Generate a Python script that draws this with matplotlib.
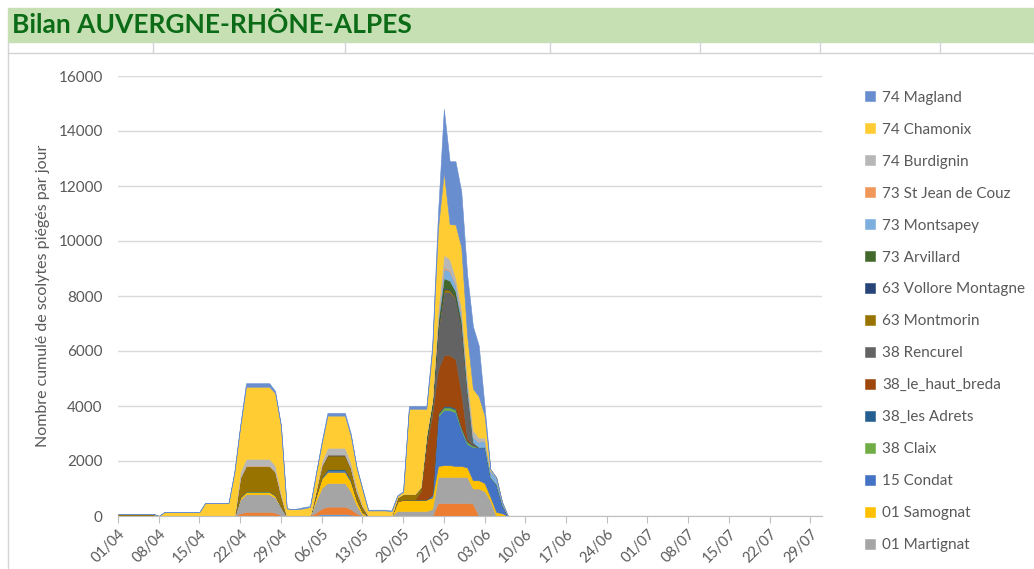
import numpy as np
import pandas as pd
import matplotlib
matplotlib.use("Agg")
import matplotlib.pyplot as plt
from matplotlib.patches import Rectangle
from matplotlib.lines import Line2D

plt.rcParams['font.family'] = ['Lato', 'DejaVu Sans']

# Daily values, 01/04 -> 06/06 (days after that are all zero)
dates = pd.date_range('2021-04-01', '2021-07-31', freq='D')

# two series at the bottom of the stack that are not shown in the legend
autre_bleu = [0] * 20 + [
    0, 20, 30, 30, 30, 30, 30, 20, 0, 0,
    0, 0, 0, 0, 30, 70, 70, 70, 70, 70,
    50, 20] + [0] * 26
autre_orange = [0] * 20 + [
    0, 80, 120, 120, 120, 120, 120, 100, 30, 0,
    0, 0, 0, 0, 100, 200, 270, 270, 270, 270,
    200, 80, 0, 0, 0, 0, 0, 0, 0, 0,
    0, 0, 0, 0, 0, 470, 470, 470, 470, 470,
    470, 450, 0, 0, 0, 0, 0, 0]
martignat = [0] * 20 + [
    0, 500, 640, 640, 640, 640, 640, 550, 300, 0,
    0, 0, 0, 0, 400, 750, 860, 860, 860, 860,
    650, 300, 50, 0, 0, 0, 0, 0, 180, 180,
    180, 180, 180, 180, 250, 950, 950, 950, 950, 950,
    950, 550, 1000, 900, 550, 0, 0, 0]
samognat = [0] * 20 + [
    0, 80, 90, 90, 90, 90, 90, 80, 20, 0,
    0, 0, 0, 0, 200, 350, 400, 400, 400, 400,
    350, 200, 100, 0, 0, 0, 0, 0, 350, 420,
    420, 420, 420, 420, 420, 400, 430, 430, 400, 400,
    350, 300, 300, 300, 150, 150, 100, 0]
condat = [0] * 30 + [
    0, 0, 0, 0, 0, 30, 60, 60, 60, 60,
    40, 0, 0, 0, 0, 0, 0, 0, 0, 0,
    0, 0, 0, 0, 100, 1800, 2000, 2000, 1950, 1300,
    850, 1200, 1200, 1300, 700, 1000, 300, 0]
claix = [0] * 20 + [
    0, 20, 20, 20, 20, 20, 20, 20, 0, 0] + [0] * 20 + [
    0, 0, 0, 0, 0, 80, 100, 100, 100, 80,
    80, 50, 0, 0, 0, 0, 0, 0]
les_adrets = [0] * 30 + [
    0, 0, 0, 0, 0, 20, 40, 40, 40, 40,
    30, 0, 0, 0, 0, 0, 0, 0, 0, 0,
    0, 0, 0, 0, 0, 30, 50, 50, 50, 30,
    30, 30, 0, 0, 0, 0, 0, 0]
haut_breda = [0] * 50 + [
    0, 0, 300, 2000, 2900, 1600, 1850, 1850, 1780, 1250,
    100, 0, 0, 0, 0, 0, 0, 0]
rencurel = [0] * 30 + [
    0, 0, 30, 0, 0, 0, 0, 0, 0, 0,
    0, 0, 0, 20, 20, 20, 20, 20, 0, 0,
    0, 0, 0, 0, 200, 1400, 2300, 2300, 2200, 2400,
    1700, 100, 0, 0, 0, 0, 0, 0]
montmorin = [
    80, 80, 80, 80, 80, 80, 80, 0, 0, 0,
    0, 0, 0, 0, 0, 0, 0, 0, 0, 0,
    0, 700, 930, 930, 930, 930, 930, 850, 400, 0,
    0, 0, 0, 0, 200, 400, 500, 500, 500, 500,
    400, 300, 200, 0, 0, 0, 0, 0, 150, 200,
    200, 200, 150, 150, 150, 100, 100, 80, 50, 50,
    0, 0, 0, 0, 0, 0, 0, 0]
vollore = [0] * 30 + [
    0, 0, 0, 0, 0, 20, 40, 40, 40, 40,
    30, 0, 0, 0, 0, 0, 0, 0, 0, 0,
    0, 0, 0, 0, 0, 30, 50, 30, 20, 0] + [0] * 8
arvillard = [0] * 50 + [
    0, 0, 0, 200, 200, 200, 350, 300, 200, 150,
    50, 0, 0, 0, 0, 0, 0, 0]
montsapey = [0] * 50 + [
    0, 0, 0, 0, 0, 200, 350, 350, 250, 250,
    250, 200, 200, 250, 250, 250, 100, 0]
st_jean = [0] * 50 + [
    0, 0, 0, 0, 0, 0, 50, 30, 0, 0] + [0] * 8
burdignin = [0] * 20 + [
    0, 200, 250, 250, 250, 250, 250, 220, 100, 0,
    0, 0, 0, 0, 0, 150, 240, 240, 240, 240,
    200, 150, 50, 0, 0, 0, 0, 0, 0, 0,
    0, 0, 0, 0, 0, 300, 450, 400, 250, 250,
    250, 250, 150, 100, 0, 0, 0, 0]
chamonix = [
    0, 0, 0, 0, 0, 0, 0, 0, 150, 150,
    150, 150, 150, 150, 150, 480, 480, 480, 480, 480,
    1600, 1650, 2620, 2620, 2620, 2620, 2620, 2630, 2420, 280,
    250, 250, 250, 330, 570, 640, 1170, 1170, 1170, 1170,
    970, 700, 570, 180, 180, 180, 180, 150, 50, 80,
    3100, 3100, 2850, 950, 1800, 2900, 3000, 1270, 1930, 2200,
    1500, 1500, 1500, 800, 50, 0, 0, 0]
magland = [0] * 20 + [
    0, 50, 130, 130, 130, 130, 130, 80, 30, 0,
    0, 30, 50, 30, 50, 70, 100, 100, 100, 100,
    80, 50, 30, 30, 30, 30, 30, 30, 20, 20,
    100, 100, 100, 100, 180, 540, 2300, 2290, 2300, 2020,
    2220, 2270, 1850, 350, 0, 0, 0, 0]

# bottom to top of the stack
series = [autre_bleu, autre_orange, martignat, samognat, condat, claix, les_adrets,
          haut_breda, rencurel, montmorin, vollore, arvillard, montsapey, st_jean,
          burdignin, chamonix, magland]
labels = ['_nolegend_', '_nolegend_', '01 Martignat', '01 Samognat', '15 Condat',
          '38 Claix', '38_les Adrets', '38_le_haut_breda', '38 Rencurel',
          '63 Montmorin', '63 Vollore Montagne', '73 Arvillard', '73 Montsapey',
          '73 St Jean de Couz', '74 Burdignin', '74 Chamonix', '74 Magland']
colors = ['#5B9BD5', '#ED7D31', '#A5A5A5', '#FFC000', '#4472C4', '#70AD47', '#255E91',
          '#9E480E', '#636363', '#997300', '#264478', '#43682B', '#7CAFDD', '#F1975A',
          '#B7B7B7', '#FFCD33', '#698ED0']

n = len(dates)
x = np.arange(n)
ys = [np.pad(np.array(s, dtype=float), (0, n - len(s))) for s in series]

fig = plt.figure(figsize=(10.34, 5.69), dpi=100)

# spreadsheet background: title band and cell borders
fig.patches.append(Rectangle((8 / 1034, 1 - 42 / 569), 1, 34 / 569, transform=fig.transFigure,
                             color='#C6E0B4', zorder=0))
fig.text(12 / 1034, 1 - 25 / 569, 'Bilan AUVERGNE-RHÔNE-ALPES', fontsize=19, fontweight='bold',
         color='#0B6B16', va='center', ha='left')
grid_c = '#D4D4D4'
fig.lines.append(Line2D([8 / 1034, 1], [1 - 53 / 569] * 2, transform=fig.transFigure, color=grid_c, lw=1))
fig.lines.append(Line2D([8 / 1034] * 2, [0, 1 - 42 / 569], transform=fig.transFigure, color=grid_c, lw=1))
for cx in [153, 345, 550, 700, 820, 940]:
    fig.lines.append(Line2D([cx / 1034] * 2, [1 - 53 / 569, 1 - 42 / 569],
                            transform=fig.transFigure, color=grid_c, lw=1))

ax = fig.add_axes([118 / 1034, 1 - 516 / 569, (822 - 118) / 1034, (516 - 76) / 569])
polys = ax.stackplot(x, ys, labels=labels, colors=colors, linewidth=0.4)
for p, c in zip(polys, colors):
    p.set_edgecolor(c)

ax.set_xlim(0, n - 1)
ax.set_ylim(0, 16000)
ax.set_yticks(np.arange(0, 16001, 2000))
ax.yaxis.grid(True, color='#D9D9D9', lw=1)
ax.set_axisbelow(True)
tick_pos = np.arange(0, n, 7)
ax.set_xticks(tick_pos)
ax.set_xticklabels([d.strftime('%d/%m') for d in dates[tick_pos]], rotation=45, ha='right',
                   rotation_mode='anchor', fontsize=10.5, color='#595959')
ax.tick_params(axis='x', length=5, color='#BFBFBF', pad=3)
ax.tick_params(axis='y', length=0, labelsize=11, labelcolor='#595959', pad=11)
for side in ['top', 'right', 'left']:
    ax.spines[side].set_visible(False)
ax.spines['bottom'].set_color('#BFBFBF')
ax.set_ylabel('Nombre cumulé de scolytes piégés par jour', fontsize=11.5, color='#595959', labelpad=6)

handles, labs = ax.get_legend_handles_labels()
leg = fig.legend(handles[::-1], labs[::-1], loc='upper left', bbox_to_anchor=(851 / 1034, 1 - 77 / 569),
                 frameon=False, fontsize=11, labelcolor='#595959', handlelength=0.65, handleheight=0.65,
                 handletextpad=0.5, labelspacing=1.175)

fig.savefig('out.png', dpi=100)
